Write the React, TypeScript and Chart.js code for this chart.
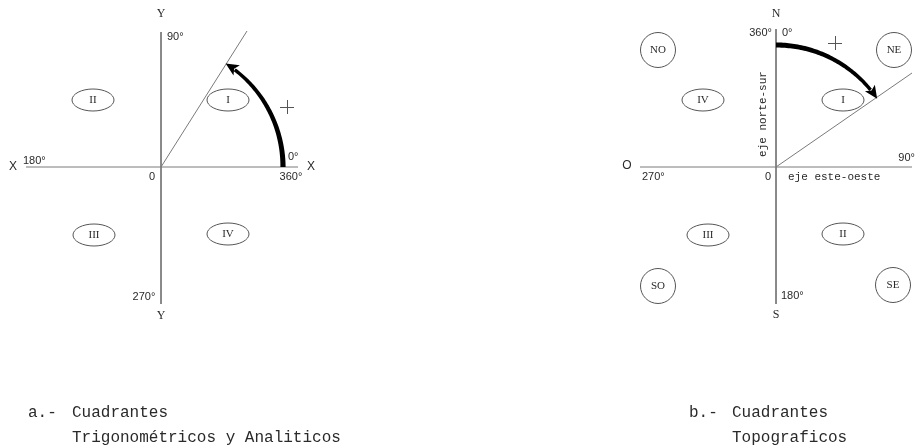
import React, { useEffect, useRef } from "react";
import { Chart, registerables } from "chart.js";

Chart.register(...registerables);

// Diagram units: origin of the trigonometric diagram at (0,0), y grows upward.
const trigOrigin = [0, 0];
const topoOrigin = [615, 0];

// a.- trigonometric / analytic quadrants
const trigAxisH = [-135, 137];
const trigAxisV = [135, -137];
const trigRayEnd = [86, 136];
const trigArc = [122, 0, 58]; // radius, from angle, to angle (counter-clockwise from +X)
const trigQuadrants = ["I", "II", "III", "IV"];
const trigQuadrantCenters = [[67, 67], [-68, 67], [-67, -68], [67, -67]];
const trigPlus = [126, 60];

// b.- topographic quadrants
const topoAxisH = [-136, 136];
const topoAxisV = [138, -137];
const topoRayEnd = [136, 94];
const topoArc = [122, 0, 56]; // radius, from bearing, to bearing (clockwise from N)
const topoQuadrants = ["I", "II", "III", "IV"];
const topoQuadrantCenters = [[67, 67], [67, -67], [-68, -68], [-73, 67]];
const topoCardinals = ["NO", "NE", "SO", "SE"];
const topoCardinalCenters = [[-118, 117], [118, 117], [-118, -119], [117, -118]];
const topoPlus = [59, 124];

// text labels: [text, x, y, align, kind]  (positions relative to each origin)
const trigLabels: [string, number, number, string, string][] = [
  ["Y", 0, 153, "center", "serifS"],
  ["90°", 6, 130, "left", "sans"],
  ["X", -148, 0, "center", "sansL"],
  ["180°", -138, 6, "left", "sans"],
  ["X", 150, 0, "center", "sansL"],
  ["0°", 127, 10, "left", "sans"],
  ["360°", 130, -10, "center", "sans"],
  ["0", -9, -10, "center", "sans"],
  ["270°", -17, -130, "center", "sans"],
  ["Y", 0, -149, "center", "serifS"],
];
const topoLabels: [string, number, number, string, string][] = [
  ["N", 0, 153, "center", "serifS"],
  ["360°", -4, 134, "right", "sans"],
  ["0°", 6, 134, "left", "sans"],
  ["O", -149, 1, "center", "sansL"],
  ["270°", -134, -10, "left", "sans"],
  ["90°", 139, 9, "right", "sans"],
  ["0", -8, -10, "center", "sans"],
  ["eje este-oeste", 12, -10, "left", "mono"],
  ["180°", 5, -129, "left", "sans"],
  ["S", 0, -148, "center", "serifS"],
];
const topoVerticalLabel = ["eje norte-sur", -13, 53];

// captions (relative to trig origin)
const captionLabels: [string, number, number][] = [
  ["a.-", -133, -246],
  ["Cuadrantes", -89, -246],
  ["Trigonométricos y Analiticos", -89, -271],
  ["b.-", 528, -246],
  ["Cuadrantes", 571, -246],
  ["Topograficos", 571, -271],
];

const LINE_COLOR = "#7a7a7a";
const TEXT_COLOR = "#2a2a2a";

const fonts: Record<string, string> = {
  sans: '11px "Liberation Sans", Arial, sans-serif',
  sansL: '12px "Liberation Sans", Arial, sans-serif',
  serifS: '12px "Liberation Serif", "Times New Roman", serif',
  mono: '11px "Liberation Mono", "DejaVu Sans Mono", monospace',
  roman: '11px "Liberation Serif", "Times New Roman", serif',
  caption: '16px "Liberation Mono", "Courier New", monospace',
};

function seg(o: number[], a: number[], b: number[]) {
  return [
    { x: o[0] + a[0], y: o[1] + a[1] },
    { x: o[0] + b[0], y: o[1] + b[1] },
  ];
}

const diagramPlugin = {
  id: "diagram",
  afterDatasetsDraw(chart: any) {
    const ctx: CanvasRenderingContext2D = chart.ctx;
    const xs = chart.scales.x;
    const ys = chart.scales.y;
    const px = (x: number) => xs.getPixelForValue(x);
    const py = (y: number) => ys.getPixelForValue(y);
    const unit = Math.abs(px(1) - px(0));
    ctx.save();

    // ellipses with roman numerals
    const drawEllipses = (o: number[], labels: string[], centers: number[][]) => {
      labels.forEach((t, i) => {
        const cx = px(o[0] + centers[i][0]);
        const cy = py(o[1] + centers[i][1]);
        ctx.beginPath();
        ctx.ellipse(cx, cy, 21 * unit, 11 * unit, 0, 0, Math.PI * 2);
        ctx.strokeStyle = "#555";
        ctx.lineWidth = 1;
        ctx.stroke();
        ctx.fillStyle = TEXT_COLOR;
        ctx.font = fonts.roman;
        ctx.textAlign = "center";
        ctx.textBaseline = "middle";
        ctx.fillText(t, cx, cy + 0.5);
      });
    };
    drawEllipses(trigOrigin, trigQuadrants, trigQuadrantCenters);
    drawEllipses(topoOrigin, topoQuadrants, topoQuadrantCenters);

    // cardinal labels inside circles (circles drawn by dataset)
    topoCardinals.forEach((t, i) => {
      ctx.fillStyle = TEXT_COLOR;
      ctx.font = fonts.roman;
      ctx.textAlign = "center";
      ctx.textBaseline = "middle";
      ctx.fillText(t, px(topoOrigin[0] + topoCardinalCenters[i][0]), py(topoOrigin[1] + topoCardinalCenters[i][1]) + 0.5);
    });

    // plus signs
    [[trigOrigin, trigPlus], [topoOrigin, topoPlus]].forEach(([o, p]) => {
      const cx = px(o[0] + p[0]);
      const cy = py(o[1] + p[1]);
      ctx.strokeStyle = "#555";
      ctx.lineWidth = 1;
      ctx.beginPath();
      ctx.moveTo(cx - 7, cy + 0.5);
      ctx.lineTo(cx + 7, cy + 0.5);
      ctx.moveTo(cx + 0.5, cy - 7);
      ctx.lineTo(cx + 0.5, cy + 7);
      ctx.stroke();
    });

    // arrows along arcs (math angles in degrees)
    const drawArrow = (o: number[], r: number, fromDeg: number, toDeg: number) => {
      const cx = px(o[0]);
      const cy = py(o[1]);
      const R = r * unit;
      const s = Math.sign(toDeg - fromDeg);
      const from = (fromDeg * Math.PI) / 180;
      const to = (toDeg * Math.PI) / 180;
      const headLen = 13;
      const endArc = to - (s * (headLen - 2)) / R;
      // tapered thick arc
      const steps = 60;
      const w0 = 5.2;
      const w1 = 3.4;
      const outer: number[][] = [];
      const inner: number[][] = [];
      for (let i = 0; i <= steps; i++) {
        const t = i / steps;
        const a = from + (endArc - from) * t;
        const w = (w0 + (w1 - w0) * t) / 2;
        outer.push([cx + (R + w) * Math.cos(a), cy - (R + w) * Math.sin(a)]);
        inner.push([cx + (R - w) * Math.cos(a), cy - (R - w) * Math.sin(a)]);
      }
      ctx.beginPath();
      outer.forEach((p, i) => (i ? ctx.lineTo(p[0], p[1]) : ctx.moveTo(p[0], p[1])));
      for (let i = inner.length - 1; i >= 0; i--) ctx.lineTo(inner[i][0], inner[i][1]);
      ctx.closePath();
      ctx.fillStyle = "#000";
      ctx.fill();
      // head
      const tip = [cx + R * Math.cos(to), cy - R * Math.sin(to)];
      const dir = [-Math.sin(to) * s, -Math.cos(to) * s];
      const base = [tip[0] - dir[0] * headLen, tip[1] - dir[1] * headLen];
      const nrm = [-dir[1], dir[0]];
      const hw = 6;
      ctx.beginPath();
      ctx.moveTo(tip[0], tip[1]);
      ctx.lineTo(base[0] + nrm[0] * hw, base[1] + nrm[1] * hw);
      ctx.lineTo(base[0] + dir[0] * 3, base[1] + dir[1] * 3);
      ctx.lineTo(base[0] - nrm[0] * hw, base[1] - nrm[1] * hw);
      ctx.closePath();
      ctx.fill();
    };
    drawArrow(trigOrigin, trigArc[0], trigArc[1], trigArc[2]);
    drawArrow(topoOrigin, topoArc[0], 90 - topoArc[1], 90 - topoArc[2]);

    // labels
    const drawLabels = (o: number[], labels: [string, number, number, string, string][]) => {
      labels.forEach(([t, x, y, align, kind]) => {
        ctx.fillStyle = TEXT_COLOR;
        ctx.font = fonts[kind];
        ctx.textAlign = align as CanvasTextAlign;
        ctx.textBaseline = "middle";
        ctx.fillText(t, px(o[0] + x), py(o[1] + y));
      });
    };
    drawLabels(trigOrigin, trigLabels);
    drawLabels(topoOrigin, topoLabels);

    // vertical label
    ctx.save();
    ctx.translate(px(topoOrigin[0] + (topoVerticalLabel[1] as number)), py(topoOrigin[1] + (topoVerticalLabel[2] as number)));
    ctx.rotate(-Math.PI / 2);
    ctx.font = fonts.mono;
    ctx.fillStyle = TEXT_COLOR;
    ctx.textAlign = "center";
    ctx.textBaseline = "middle";
    ctx.fillText(topoVerticalLabel[0] as string, 0, 0);
    ctx.restore();

    // captions
    captionLabels.forEach(([t, x, y]) => {
      ctx.fillStyle = TEXT_COLOR;
      ctx.font = fonts.caption;
      ctx.textAlign = "left";
      ctx.textBaseline = "middle";
      ctx.fillText(t, px(x), py(y));
    });

    ctx.restore();
  },
};

export default function App() {
  const ref = useRef<HTMLCanvasElement | null>(null);
  useEffect(() => {
    if (!ref.current) return;
    const lineDs = (data: { x: number; y: number }[]) => ({
      type: "scatter" as const,
      data,
      showLine: true,
      borderColor: LINE_COLOR,
      borderWidth: 1,
      pointRadius: 0,
      pointHoverRadius: 0,
    });
    const chart = new Chart(ref.current, {
      type: "scatter",
      data: {
        datasets: [
          lineDs(seg(trigOrigin, [trigAxisH[0], 0], [trigAxisH[1], 0])),
          lineDs(seg(trigOrigin, [0, trigAxisV[0]], [0, trigAxisV[1]])),
          lineDs(seg(trigOrigin, [0, 0], trigRayEnd)),
          lineDs(seg(topoOrigin, [topoAxisH[0], 0], [topoAxisH[1], 0])),
          lineDs(seg(topoOrigin, [0, topoAxisV[0]], [0, topoAxisV[1]])),
          lineDs(seg(topoOrigin, [0, 0], topoRayEnd)),
          {
            type: "scatter",
            data: topoCardinalCenters.map((c) => ({ x: topoOrigin[0] + c[0], y: topoOrigin[1] + c[1] })),
            pointStyle: "circle",
            pointRadius: 17.5,
            pointHoverRadius: 17.5,
            backgroundColor: "#ffffff",
            borderColor: "#555",
            borderWidth: 1,
            showLine: false,
          },
        ],
      },
      options: {
        responsive: false,
        animation: false,
        events: [],
        layout: { padding: 0, autoPadding: false },
        plugins: { legend: { display: false }, title: { display: false }, tooltip: { enabled: false } },
        scales: {
          x: { type: "linear", min: -161, max: 758, display: false },
          y: { type: "linear", min: -281, max: 167, display: false },
        },
      },
      plugins: [diagramPlugin],
    });
    return () => chart.destroy();
  }, []);
  return (
    <div style={{ position: "absolute", left: 0, top: 0, width: 919, height: 448, background: "#fff" }}>
      <canvas ref={ref} width={919} height={448} style={{ width: 919, height: 448, display: "block" }} />
    </div>
  );
}
